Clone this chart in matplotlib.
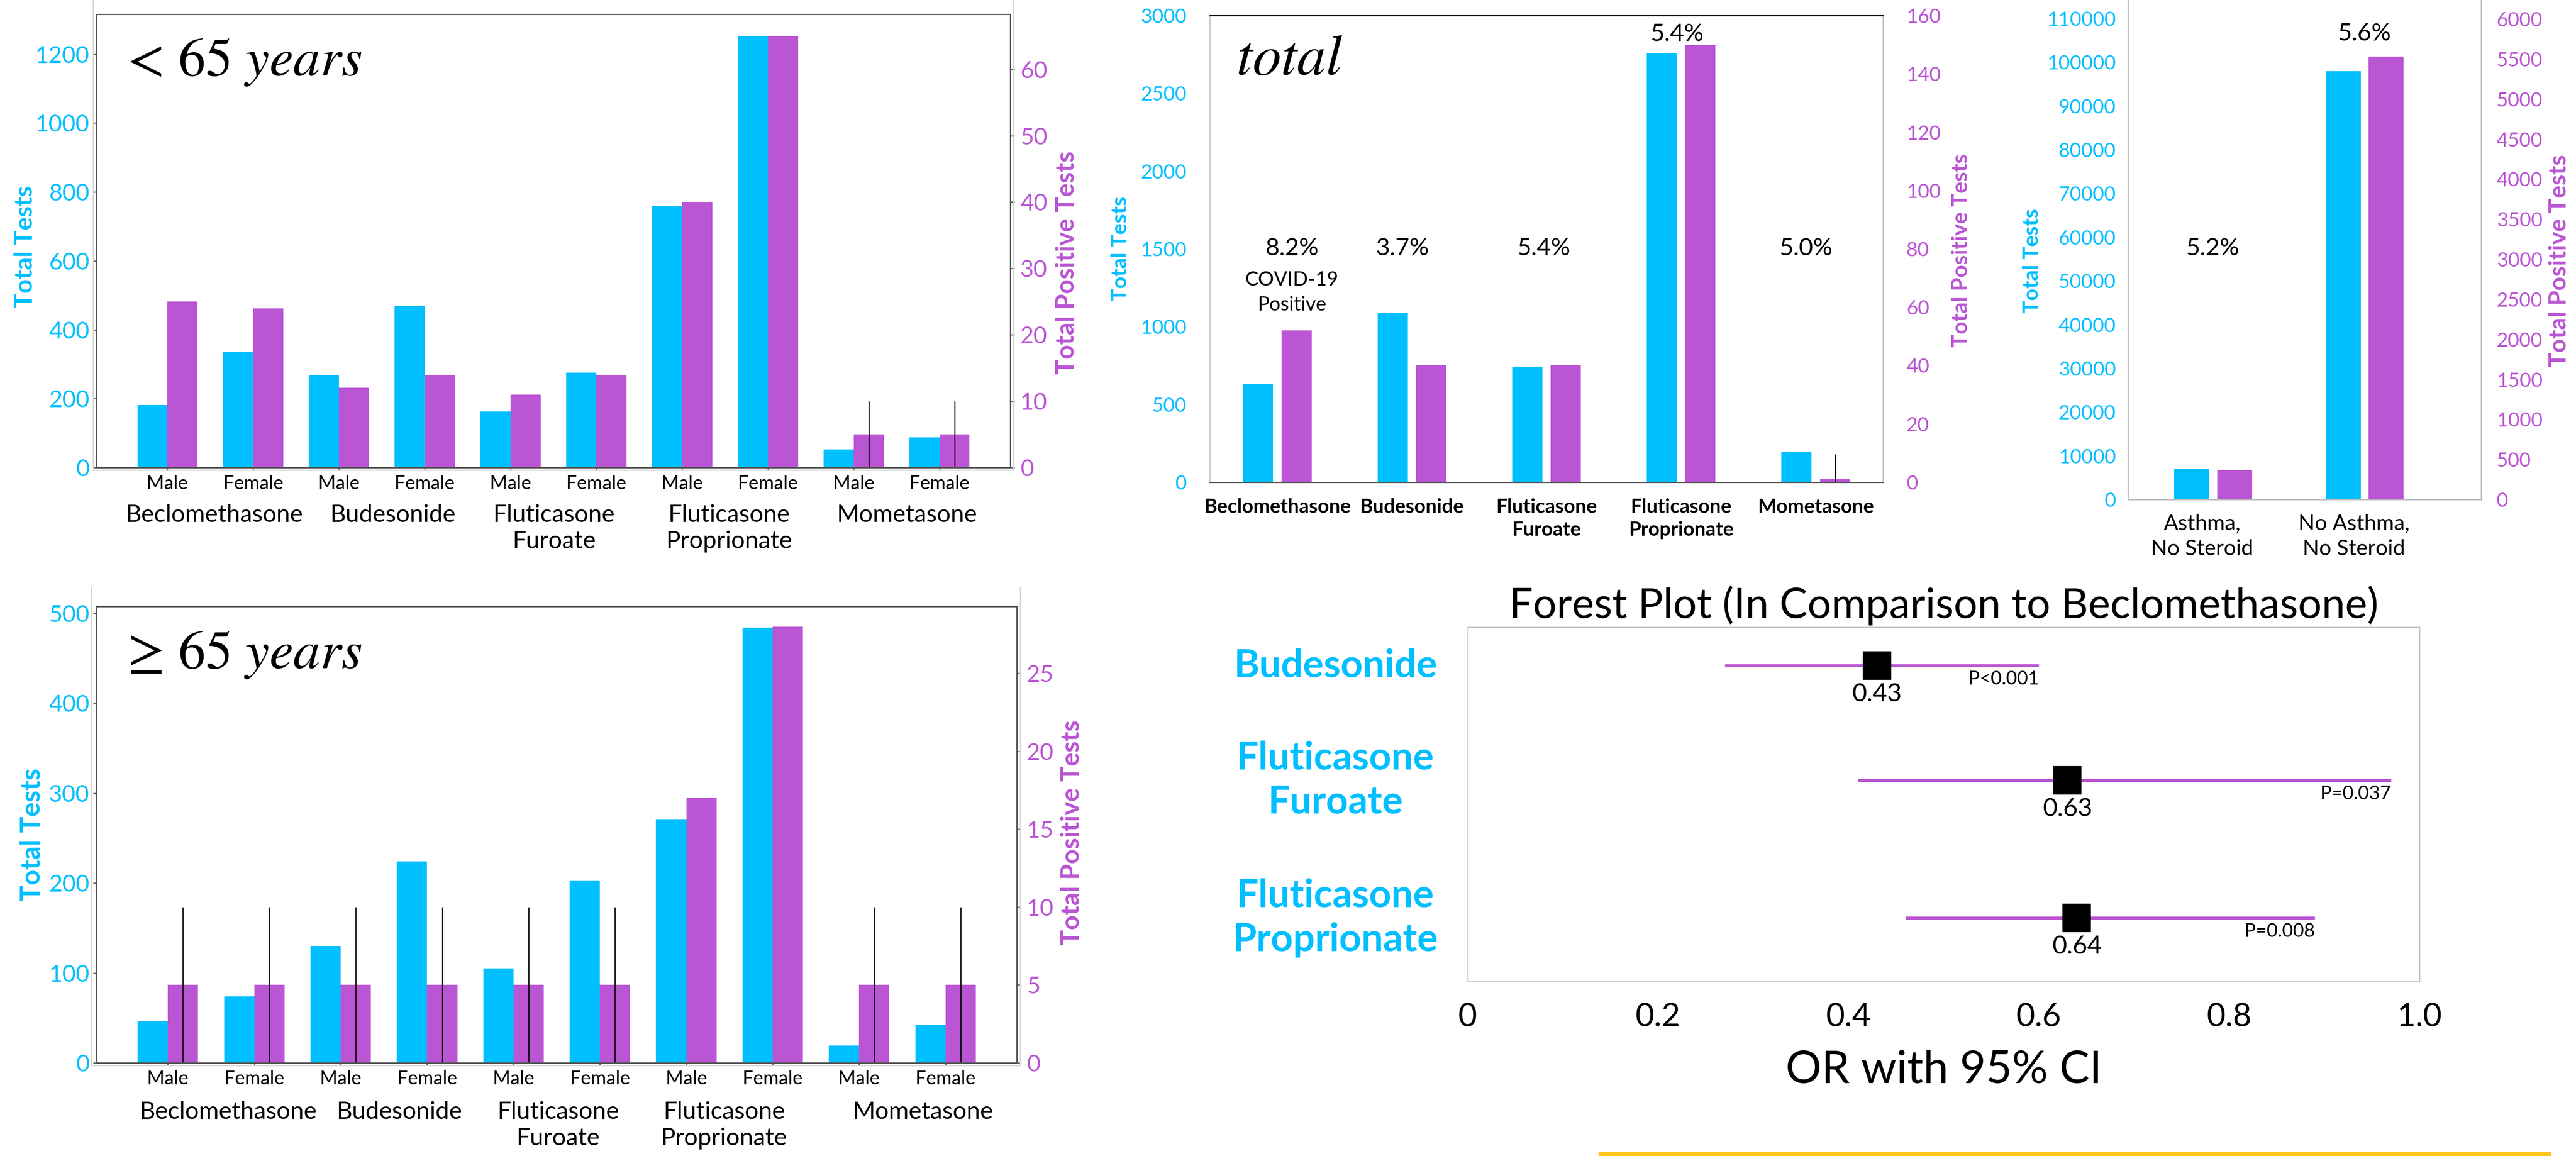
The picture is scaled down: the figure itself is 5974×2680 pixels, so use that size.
import numpy as np
import matplotlib.pyplot as plt
import matplotlib.transforms as mtransforms
from matplotlib.lines import Line2D
from matplotlib.patches import Rectangle

plt.rcParams['font.family'] = ['Lato', 'DejaVu Sans']
plt.rcParams['mathtext.fontset'] = 'stix'

BLUE = '#00BFFF'
PURPLE = '#BA55D3'
SPINE = '#555555'
FRAME = '#BFBFBF'
W, H = 5974, 2680

# ---------------- data ----------------
drugs = ['Beclomethasone', 'Budesonide', 'Fluticasone\nFuroate',
         'Fluticasone\nProprionate', 'Mometasone']
sexes = ['Male', 'Female'] * 5

# < 65 years, drug x sex
tests_young = [182, 335, 268, 469, 163, 275, 760, 1254, 53, 88]
pos_young = [25, 24, 12, 14, 11, 14, 40, 65, 5, 5]
err_young = [0, 0, 0, 0, 0, 0, 0, 0, 5, 5]

# >= 65 years, drug x sex
tests_old = [46, 74, 130, 224, 105, 203, 271, 484, 19, 42]
pos_old = [5, 5, 5, 5, 5, 5, 17, 28, 5, 5]
err_old = [5, 5, 5, 5, 5, 5, 0, 0, 5, 5]

# total per drug
drugs_total = ['Beclomethasone', 'Budesonide', 'Fluticasone\nFuroate',
               'Fluticasone\nProprionate', 'Mometasone']
tests_total = [633, 1086, 743, 2758, 198]
pos_total = [52, 40, 40, 150, 1]
err_total = [0, 0, 0, 0, 8.6]
pct_total = ['8.2%', '3.7%', '5.4%', '5.4%', '5.0%']

# no steroid controls
ctrl_groups = ['Asthma,\nNo Steroid', 'No Asthma,\nNo Steroid']
tests_ctrl = [7000, 98000]
pos_ctrl = [364, 5530]
pct_ctrl = ['5.2%', '5.6%']

# forest plot, OR vs Beclomethasone
forest_drugs = ['Budesonide', 'Fluticasone\nFuroate', 'Fluticasone\nProprionate']
or_vals = [0.43, 0.63, 0.64]
ci_low = [0.27, 0.41, 0.46]
ci_high = [0.60, 0.97, 0.89]
p_vals = ['P<0.001', 'P=0.037', 'P=0.008']


def px_rect(left, top, right, bottom):
    return [left / W, 1 - bottom / H, (right - left) / W, (bottom - top) / H]


def px_line(xs, ys, color='#D9D9D9', lw=0.7):
    fig.add_artist(Line2D(np.array(xs) / W, 1 - np.array(ys) / H,
                          color=color, lw=lw, transform=fig.transFigure))


def vlabel(ax, x, y, s, color, size):
    ax.text(x, y, s, transform=ax.transAxes, rotation=90, ha='center', va='center',
            color=color, fontsize=size, fontweight='bold')


def sex_panel(rect, tests, pos, err, ylim_l, ylim_r, yt_l, yt_r, title, lab_x, lab_y, ylab_pos, ylab_size):
    ax = fig.add_axes(rect)
    x = np.arange(len(tests))
    w = 0.35
    ax.bar(x - w / 2, tests, w, color=BLUE)
    ax.set_xlim(-0.825, 9.825)
    ax.set_ylim(*ylim_l)
    ax.set_yticks(yt_l)
    ax.set_xticks(x)
    ax.set_xticklabels(sexes, fontsize=10.5)
    ax.tick_params(axis='x', length=1.5, width=0.6, pad=2.5, color=SPINE)
    ax.tick_params(axis='y', labelcolor=BLUE, labelsize=13, length=2, width=0.6, pad=2, color=SPINE)

    ax2 = ax.twinx()
    ax2.bar(x + w / 2, pos, w, color=PURPLE)
    idx = [i for i, e in enumerate(err) if e > 0]
    ax2.errorbar(x[idx] + w / 2, np.array(pos)[idx], yerr=np.array(err)[idx],
                 fmt='none', ecolor='black', elinewidth=0.6, capsize=0)
    ax2.set_ylim(*ylim_r)
    ax2.set_yticks(yt_r)
    ax2.tick_params(axis='y', labelcolor=PURPLE, labelsize=13, length=2.5, width=0.6, pad=3, color=SPINE)
    for a in (ax, ax2):
        for sp in a.spines.values():
            sp.set_color(SPINE)
            sp.set_linewidth(0.7)

    trans = mtransforms.blended_transform_factory(ax.transData, ax.transAxes)
    for lx, name in zip(lab_x, drugs):
        ax.text(lx, lab_y, name, transform=trans, ha='center', va='top',
                fontsize=13.5, linespacing=1.25)
    ax.text(0.025, 0.865, title, transform=ax.transAxes, ha='left', va='baseline', fontsize=30)
    vlabel(ax, ylab_pos[0], ylab_pos[1], 'Total Tests', BLUE, ylab_size[0])
    vlabel(ax, ylab_pos[2], ylab_pos[3], 'Total Positive Tests', PURPLE, ylab_size[1])
    return ax


fig = plt.figure(figsize=(W / 300, H / 300), dpi=300, facecolor='white')

# light frames around the two sex panels
px_line([216, 216, 2350, 2350], [0, 1090, 1090, 0])
px_line([212, 212, 2366, 2366], [1362, 2470, 2470, 1362])

# ---------------- < 65 years ----------------
sex_panel(px_rect(224, 33, 2343, 1084), tests_young, pos_young, err_young,
          (0, 1316), (0, 68.3), np.arange(0, 1201, 200), np.arange(0, 61, 10),
          r'$<\,65\ years$', [0.55, 2.63, 4.51, 6.55, 8.62], -0.081,
          (-0.078, 0.487, 1.062, 0.452), (13.8, 14.2))

# ---------------- >= 65 years ----------------
sex_panel(px_rect(224, 1406, 2358, 2464), tests_old, pos_old, err_old,
          (0, 507.6), (0, 29.3), np.arange(0, 501, 100), np.arange(0, 26, 5),
          r'$\geq\,65\ years$', [0.70, 2.68, 4.52, 6.44, 8.74], -0.084,
          (-0.070, 0.50, 1.060, 0.505), (15, 14.3))

# ---------------- total ----------------
axc = fig.add_axes(px_rect(2806, 36, 4367, 1118))
xc = np.arange(len(tests_total))
wc = 0.224
axc.bar(xc - 0.143, tests_total, wc, color=BLUE)
axc.set_xlim(-0.5, 4.5)
axc.set_ylim(0, 3000)
axc.set_yticks(np.arange(0, 3001, 500))
axc.set_xticks(xc)
axc.set_xticklabels(drugs_total, fontsize=11, fontweight='bold', linespacing=1.3)
axc.tick_params(axis='x', length=0, pad=9)
axc.tick_params(axis='y', length=0, labelcolor=BLUE, labelsize=11, pad=13)
axc2 = axc.twinx()
axc2.bar(xc + 0.143, pos_total, wc, color=PURPLE)
idx = [i for i, e in enumerate(err_total) if e > 0]
axc2.errorbar(xc[idx] + 0.143, np.array(pos_total)[idx], yerr=np.array(err_total)[idx],
              fmt='none', ecolor='black', elinewidth=0.8, capsize=0)
axc2.set_ylim(0, 160)
axc2.set_yticks(np.arange(0, 161, 20))
axc2.tick_params(axis='y', length=0, labelcolor=PURPLE, labelsize=11, pad=13)
for a in (axc, axc2):
    a.spines['top'].set_color('black')
    a.spines['top'].set_linewidth(0.7)
    a.spines['bottom'].set_color(SPINE)
    a.spines['bottom'].set_linewidth(0.7)
    a.spines['left'].set_color(FRAME)
    a.spines['left'].set_linewidth(0.5)
    a.spines['right'].set_color(FRAME)
    a.spines['right'].set_linewidth(0.5)
pct_dx = [0.11, -0.07, -0.02, -0.03, -0.07]
pct_y = [1500, 1500, 1500, 2880, 1500]
for i, s in enumerate(pct_total):
    axc.text(xc[i] + pct_dx[i], pct_y[i], s, ha='center', va='center', fontsize=13.5)
axc.text(xc[0] + pct_dx[0], 1220, 'COVID-19\nPositive', ha='center', va='center',
         fontsize=11, linespacing=1.45)
axc.text(0.039, 0.908, r'$total$', transform=axc.transAxes, ha='left', va='center', fontsize=32)
vlabel(axc, -0.133, 0.50, 'Total Tests', BLUE, 11.8)
vlabel(axc, 1.116, 0.497, 'Total Positive Tests', PURPLE, 12.3)

# ---------------- no steroid controls ----------------
axd = fig.add_axes(px_rect(4935, 0, 5754, 1158))
xd = np.arange(len(tests_ctrl))
wd = 0.23
axd.bar(xd - 0.14, tests_ctrl, wd, color=BLUE)
axd.set_xlim(-0.56, 1.77)
axd.set_ylim(0, 114230)
axd.set_yticks(np.arange(0, 110001, 10000))
axd.set_xticks(xd - 0.07)
axd.set_xticklabels(ctrl_groups, fontsize=12, linespacing=1.35)
axd.tick_params(axis='x', length=0, pad=8)
axd.tick_params(axis='y', length=0, labelcolor=BLUE, labelsize=11, pad=6.7)
axd2 = axd.twinx()
axd2.bar(xd + 0.143, pos_ctrl, wd, color=PURPLE)
axd2.set_ylim(0, 6237)
axd2.set_yticks(np.arange(0, 6001, 500))
axd2.tick_params(axis='y', length=0, labelcolor=PURPLE, labelsize=11, pad=8.6)
for a in (axd, axd2):
    a.spines['top'].set_visible(False)
    for k in ('left', 'right', 'bottom'):
        a.spines[k].set_color(FRAME)
        a.spines[k].set_linewidth(0.6)
ctrl_pct_y = [57400, 106460]
for i, s in enumerate(pct_ctrl):
    axd.text(xd[i], ctrl_pct_y[i], s, ha='center', va='center', fontsize=13.5)
vlabel(axd, -0.272, 0.478, 'Total Tests', BLUE, 11.8)
vlabel(axd, 1.221, 0.478, 'Total Positive Tests', PURPLE, 13.5)

# ---------------- forest plot ----------------
axf = fig.add_axes(px_rect(3404, 1454, 5611, 2274))
rows = np.array([0, 1, 2.2])
axf.hlines(rows, ci_low, ci_high, color=PURPLE, lw=1.7)
axf.plot(or_vals, rows, 's', color='black', ms=15, zorder=3)
for i in range(len(rows)):
    axf.text(or_vals[i], rows[i] + 0.25, f'{or_vals[i]:.2f}', ha='center', va='center', fontsize=14)
    axf.text(ci_high[i], rows[i] + 0.12, p_vals[i], ha='right', va='center', fontsize=10.5)
axf.set_xlim(0, 1)
axf.set_ylim(2.75, -0.335)
axf.set_yticks([])
axf.set_xticks([0, 0.2, 0.4, 0.6, 0.8, 1.0])
axf.set_xticklabels(['0', '0.2', '0.4', '0.6', '0.8', '1.0'])
axf.tick_params(axis='x', length=0, labelsize=18, pad=12)
for sp in axf.spines.values():
    sp.set_color(FRAME)
    sp.set_linewidth(0.6)
ftrans = mtransforms.blended_transform_factory(axf.transAxes, axf.transData)
for i, name in enumerate(forest_drugs):
    axf.text(-0.139, rows[i], name, transform=ftrans, ha='center', va='center',
             color=BLUE, fontsize=21.5, fontweight='bold', linespacing=1.3)
axf.set_title('Forest Plot (In Comparison to Beclomethasone)', fontsize=23.3, pad=5)
axf.set_xlabel('OR with 95% CI', fontsize=25)
axf.xaxis.set_label_coords(0.5, -0.195)

# gold rule at the bottom
fig.add_artist(Rectangle((3707 / W, 0), (5916 - 3707) / W, 10 / H,
                         transform=fig.transFigure, color='#FFC522', lw=0))

fig.savefig('out.png', dpi=300, facecolor='white')
